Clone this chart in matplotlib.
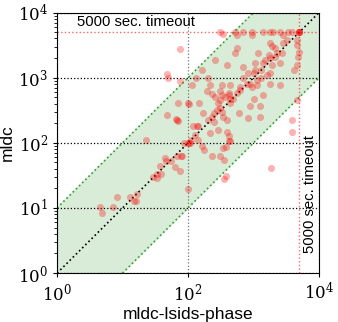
import numpy as np
import matplotlib
matplotlib.use('Agg')
import matplotlib.pyplot as plt
from matplotlib.ticker import LogLocator, NullLocator, NullFormatter

plt.rcParams['font.family'] = ['Liberation Sans', 'DejaVu Sans']
plt.rcParams['mathtext.fontset'] = 'stix'

# runtimes in seconds (x: mldc-lsids-phase, y: mldc)
x_time = [4.5, 4.8, 7.2, 8.3, 12.9, 15.1, 15.8, 16.6, 29.5, 33, 34, 39, 37, 46, 55, 63, 68, 74, 81, 87,
          100, 107, 100, 162, 174, 234, 309, 355, 347, 380, 427, 355, 380, 1820, 23, 76, 47, 50, 76, 115,
          132, 71, 102, 48, 66, 71, 120, 141, 105,
          309, 525, 692, 933, 1410, 1780, 2000, 2510, 3390, 3800, 5000, 5000, 5000, 5000,
          550, 933, 2820, 347,
          3240, 2820, 4570, 4570, 5000, 4790, 4570, 4070, 1780, 1910, 2140, 2690, 2240, 1700, 2140, 2510,
          1780, 1910, 1510, 1410, 1170, 1050, 1320, 1050, 1000, 832, 692, 525, 550, 389, 257, 162,
          692, 1580, 1780, 2510, 1780, 1320, 1120, 794, 617, 437, 324, 204, 219, 309, 417, 933, 1410,
          191, 229, 309, 363, 417, 437, 288, 309, 275, 324, 347, 398, 245, 229, 245, 170, 145, 100,
          68, 135, 204, 288, 389, 417, 437, 219, 589, 832, 891, 1260, 1260, 490, 617, 1120,
          3800, 3800, 4570, 79, 45, 112, 126, 141, 257, 324, 437, 550, 1000, 891]
y_time = [10.5, 8.3, 10.5, 14.5, 14.8, 12.9, 12.6, 16.6, 30.2, 33, 29, 33, 44, 52, 52, 43, 62, 37, 62, 98,
          98, 100, 19.5, 89, 78, 63, 62, 55, 83, 87, 105, 28, 31, 41, 110, 2750, 1150, 980, 890, 776,
          980, 407, 389, 263, 234, 219, 182, 182, 100,
          5000, 5000, 5000, 5000, 5000, 5000, 5000, 5000, 5000, 5000, 5000, 5000, 5000, 5000,
          4470, 4470, 4570, 4680,
          3800, 3390, 3800, 3160, 2510, 2090, 1580, 1320, 3390, 3020, 2820, 2400, 2400, 2240, 2090, 1660,
          2000, 1580, 1860, 1660, 2400, 1660, 1320, 1320, 1170, 1170, 1480, 2400, 2820, 1580, 1860, 1320,
          980, 1100, 1170, 776, 813, 980, 912, 813, 724, 776, 776, 980, 776, 617, 537, 724, 537,
          617, 562, 457, 513, 575, 407, 407, 339, 316, 302, 251, 224, 282, 251, 209, 282, 407, 407,
          224, 178, 224, 158, 148, 126, 105, 141, 282, 240, 363, 363, 251, 479, 646, 776,
          224, 148, 457, 62, 58, 112, 132, 112, 513, 537, 479, 575, 479, 813]

timeout = 5000
lims = [1, 1e4]

fig = plt.figure(figsize=(3.38, 3.22), dpi=100)
ax = fig.add_axes([0.169, 0.152, 0.775, 0.809])

ax.set_xscale('log')
ax.set_yscale('log')
ax.set_xlim(lims)
ax.set_ylim(lims)

# 10x band around the diagonal
xs = np.array(lims)
ax.fill_between(xs, xs / 10, xs * 10, color='#d8ecd8', zorder=0)
ax.plot(xs, xs / 10, ':', color='#2ca02c', lw=1.2, zorder=1)
ax.plot(xs, xs * 10, ':', color='#2ca02c', lw=1.2, zorder=1)
ax.plot(xs, xs, ':', color='black', lw=1.2, zorder=1)

# timeout lines
ax.axhline(timeout, color='red', ls=':', lw=1, alpha=0.6, zorder=1)
ax.axvline(timeout, color='red', ls=':', lw=1, alpha=0.6, zorder=1)
ax.text(2.0, 5600, '5000 sec. timeout', fontsize=10.7, ha='left', va='bottom')
ax.text(5700, 2.0, '5000 sec. timeout', fontsize=10.7, rotation=90, ha='left', va='bottom')

ax.scatter(x_time, y_time, s=26, color='red', alpha=0.3, linewidths=0, zorder=3)

ax.set_xticks([1, 100, 10000])
ax.xaxis.set_minor_locator(NullLocator())
ax.yaxis.set_major_locator(LogLocator(base=10, numticks=10))
ax.yaxis.set_minor_locator(LogLocator(base=10, subs=np.arange(2, 10), numticks=10))
ax.yaxis.set_minor_formatter(NullFormatter())
ax.tick_params(axis='both', which='major', labelsize=12, direction='out', length=3, width=0.8)
ax.tick_params(axis='y', which='minor', direction='out', length=2, width=0.6)
for lab in ax.get_xticklabels() + ax.get_yticklabels():
    lab.set_family('serif')

ax.grid(True, axis='y', which='major', ls=':', color='black', lw=0.9, zorder=1)
ax.grid(True, axis='x', which='major', ls=':', color='0.45', lw=0.9, zorder=1)
ax.set_axisbelow(True)

ax.set_xlabel('mldc-lsids-phase', fontsize=12.5, labelpad=2)
ax.set_ylabel('mldc', fontsize=12.5, labelpad=2)

fig.savefig('out.png', dpi=100)
